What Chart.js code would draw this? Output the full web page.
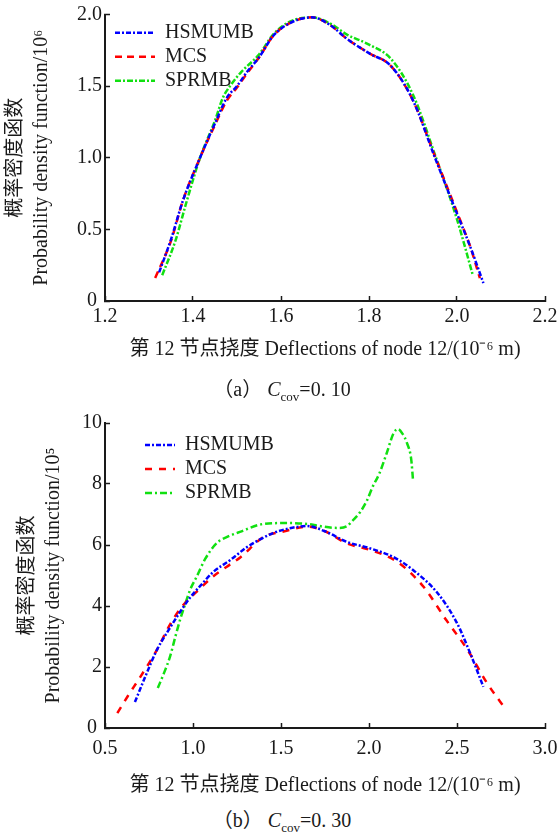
<!DOCTYPE html>
<html>
<head>
<meta charset="utf-8">
<script src="https://cdn.jsdelivr.net/npm/chart.js@4.4.0/dist/chart.umd.min.js"></script>
<style>
  body { margin: 0; background: #fff; width: 558px; height: 836px; position: relative; overflow: hidden;
         font-family: 'Liberation Serif', 'Noto Sans CJK SC', serif; color: #1a1a1a; }
  canvas { position: absolute; left: 0; }
  #graficoA { top: 0; }
  #graficoB { top: 400px; }
  .legenda { position: absolute; left: 0; width: 564px; text-align: center; font-size: 20px; line-height: 24px; white-space: nowrap; }
  .legenda sub { font-size: 13px; vertical-align: -5px; line-height: 0; }
</style>
</head>
<body>
<canvas id="graficoA" width="558" height="372"></canvas>
<canvas id="graficoB" width="558" height="400"></canvas>
<div class="legenda" style="top:377px">（a） <i>C</i><sub>cov</sub>=0. 10</div>
<div class="legenda" style="top:808px">（b） <i>C</i><sub>cov</sub>=0. 30</div>
<script>
  var nomes = ['HSMUMB', 'MCS', 'SPRMB'];

  // (a) Ccov = 0.10
  var xHsmA = [1.323, 1.35, 1.377, 1.416, 1.45, 1.477, 1.50, 1.523, 1.55, 1.582, 1.62, 1.67, 1.71, 1.75, 1.80, 1.85, 1.90, 1.95, 2.00, 2.03, 2.06];
  var yHsmA = [0.20, 0.43, 0.70, 1.00, 1.24, 1.42, 1.50, 1.60, 1.70, 1.85, 1.94, 1.98, 1.93, 1.83, 1.73, 1.64, 1.40, 1.00, 0.61, 0.38, 0.125];
  var xMcsA = [1.314, 1.35, 1.377, 1.416, 1.45, 1.477, 1.50, 1.523, 1.55, 1.582, 1.62, 1.67, 1.71, 1.75, 1.80, 1.85, 1.90, 1.95, 2.00, 2.03, 2.052];
  var yMcsA = [0.16, 0.42, 0.70, 1.00, 1.23, 1.40, 1.49, 1.59, 1.70, 1.85, 1.94, 1.98, 1.93, 1.83, 1.73, 1.64, 1.40, 1.01, 0.62, 0.38, 0.16];
  var xSprA = [1.33, 1.36, 1.386, 1.416, 1.45, 1.468, 1.484, 1.51, 1.55, 1.582, 1.62, 1.67, 1.71, 1.75, 1.80, 1.85, 1.90, 1.95, 2.00, 2.036];
  var ySprA = [0.18, 0.42, 0.70, 1.00, 1.26, 1.42, 1.50, 1.60, 1.72, 1.86, 1.95, 1.98, 1.94, 1.86, 1.79, 1.69, 1.44, 1.02, 0.57, 0.18];
  var xTicksA = [1.2, 1.4, 1.6, 1.8, 2.0, 2.2];
  var xLabelsA = ['1.2', '1.4', '1.6', '1.8', '2.0', '2.2'];
  var yTicksA = [0, 0.5, 1.0, 1.5, 2.0];
  var yLabelsA = ['0 ', '0.5', '1.0', '1.5', '2.0'];

  // (b) Ccov = 0.30
  var xHsmB = [0.67, 0.73, 0.795, 0.86, 0.926, 0.98, 1.04, 1.114, 1.21, 1.307, 1.455, 1.55, 1.65, 1.75, 1.875, 2.0, 2.14, 2.25, 2.39, 2.50, 2.575, 2.65];
  var yHsmB = [0.85, 1.7, 2.56, 3.2, 3.8, 4.25, 4.65, 5.11, 5.5, 5.93, 6.39, 6.55, 6.62, 6.45, 6.1, 5.9, 5.6, 5.18, 4.42, 3.44, 2.45, 1.35];
  var xMcsB = [0.57, 0.63, 0.70, 0.795, 0.87, 0.94, 1.02, 1.11, 1.19, 1.27, 1.40, 1.52, 1.65, 1.75, 1.875, 2.0, 2.16, 2.31, 2.44, 2.56, 2.67, 2.78];
  var yMcsB = [0.49, 1.05, 1.67, 2.56, 3.4, 4.0, 4.46, 4.95, 5.28, 5.6, 6.26, 6.45, 6.6, 6.45, 6.05, 5.85, 5.45, 4.63, 3.53, 2.56, 1.48, 0.59];
  var xSprB = [0.80, 0.835, 0.869, 0.90, 0.926, 0.955, 0.983, 1.02, 1.07, 1.136, 1.20, 1.267, 1.40, 1.53, 1.65, 1.72, 1.82, 1.875, 1.91, 1.95, 1.99, 2.02, 2.06, 2.10, 2.14, 2.165, 2.19, 2.216, 2.24, 2.25];
  var ySprB = [1.31, 1.8, 2.33, 3.0, 3.54, 4.05, 4.52, 4.95, 5.55, 6.07, 6.28, 6.43, 6.69, 6.72, 6.69, 6.62, 6.56, 6.62, 6.82, 7.08, 7.48, 7.9, 8.36, 9.0, 9.67, 9.8, 9.65, 9.34, 8.8, 8.13];
  var xTicksB = [0.5, 1.0, 1.5, 2.0, 2.5, 3.0];
  var xLabelsB = ['0.5', '1.0', '1.5', '2.0', '2.5', '3.0'];
  var yTicksB = [0, 2, 4, 6, 8, 10];
  var yLabelsB = ['0 ', '2', '4', '6', '8', '10'];

  var fonte = "'Liberation Serif', 'Noto Sans CJK SC', serif";
  var preto = '#1a1a1a';

  function pontos(xs, ys) {
    return xs.map(function (x, i) { return {x: x, y: ys[i]}; });
  }

  function serie(nome, dados, cor, traco) {
    return {
      label: nome, data: dados, borderColor: cor, backgroundColor: cor,
      borderWidth: 2.5, borderDash: traco, pointRadius: 0, fill: false,
      cubicInterpolationMode: 'monotone'
    };
  }

  // escala com ticks para dentro e tamanho fixo
  function eixo(pos, min, max, ticks, rotulos, titulo, tamanho, padTitulo, padTick) {
    return {
      type: 'linear', position: pos, min: min, max: max,
      afterBuildTicks: function (s) { s.ticks = ticks.map(function (v) { return {value: v}; }); },
      afterFit: function (s) {
        if (pos === 'left') s.width = tamanho; else s.height = tamanho;
        s.paddingLeft = 0; s.paddingRight = 0;
        s.paddingTop = 0; s.paddingBottom = 0;
      },
      ticks: {
        font: {family: fonte, size: 20}, color: preto, padding: padTick,
        maxRotation: 0, autoSkip: false,
        callback: function (v, i) { return rotulos[i]; }
      },
      grid: { drawOnChartArea: false, tickLength: -5, color: preto, tickWidth: 1.5 },
      border: { color: preto, width: 2 },
      title: { display: true, text: titulo, font: {family: fonte, size: 20, lineHeight: 1.3}, color: preto, padding: padTitulo }
    };
  }

  // coloca a legenda dentro da area do grafico
  var posLegenda = {
    id: 'posLegenda',
    afterLayout: function (chart, args, opts) {
      var lg = chart.legend;
      var pad = lg.options.labels.padding;
      lg.left = chart.chartArea.left + opts.dx - pad;
      lg.top = chart.chartArea.top + opts.dy - pad;
      lg.right = lg.left + 300;
      lg.bottom = lg.top + 200;
    }
  };

  function legenda(largura) {
    return {
      position: 'chartArea', align: 'start',
      labels: {
        font: {family: fonte, size: 20}, color: preto, padding: 4,
        usePointStyle: true, pointStyle: 'line', pointStyleWidth: largura,
        generateLabels: function (chart) {
          var itens = Chart.defaults.plugins.legend.labels.generateLabels(chart);
          itens.forEach(function (it, i) {
            var ds = chart.data.datasets[i];
            it.lineDash = ds.borderDash;
            it.lineWidth = ds.borderWidth;
            it.strokeStyle = ds.borderColor;
            it.pointStyle = 'line';
          });
          return itens;
        }
      }
    };
  }

  var ctxA = document.getElementById('graficoA').getContext('2d');
  new Chart(ctxA, {
    type: 'line',
    data: {
      datasets: [
        serie(nomes[0], pontos(xHsmA, yHsmA), '#0000ff', [5, 2, 2, 2]),
        serie(nomes[1], pontos(xMcsA, yMcsA), '#ff0000', [7, 5]),
        serie(nomes[2], pontos(xSprA, ySprA), '#11e011', [6, 2, 2, 2])
      ]
    },
    options: {
      responsive: false, animation: false,
      layout: { padding: {top: 14.5, right: 13, bottom: 0, left: 0} },
      scales: {
        x: eixo('bottom', 1.2, 2.2, xTicksA, xLabelsA, '第 12 节点挠度 Deflections of node 12/(10⁻⁶ m)', 71, {top: 0, bottom: 9}, 8.5),
        y: eixo('left', 0, 2.0, yTicksA, yLabelsA, ['概率密度函数', 'Probability density function/10⁶'], 105, {top: 3, bottom: 0}, 8)
      },
      plugins: {
        legend: legenda(40),
        tooltip: { enabled: false },
        posLegenda: { dx: 10, dy: 8.2 }
      }
    },
    plugins: [posLegenda]
  });

  var ctxB = document.getElementById('graficoB').getContext('2d');
  new Chart(ctxB, {
    type: 'line',
    data: {
      datasets: [
        serie(nomes[0], pontos(xHsmB, yHsmB), '#0000ff', [5, 2, 2, 2]),
        serie(nomes[1], pontos(xMcsB, yMcsB), '#ff0000', [7, 7]),
        serie(nomes[2], pontos(xSprB, ySprB), '#11e011', [7, 3, 2, 3])
      ]
    },
    options: {
      responsive: false, animation: false,
      layout: { padding: {top: 23, right: 13, bottom: 0, left: 0} },
      scales: {
        x: eixo('bottom', 0.5, 3.0, xTicksB, xLabelsB, '第 12 节点挠度 Deflections of node 12/(10⁻⁶ m)', 72, {top: 0, bottom: 1}, 14),
        y: eixo('left', 0, 10, yTicksB, yLabelsB, ['概率密度函数', 'Probability density function/10⁵'], 105, {top: 15, bottom: 0}, 8)
      },
      plugins: {
        legend: legenda(30),
        tooltip: { enabled: false },
        posLegenda: { dx: 40, dy: 12 }
      }
    },
    plugins: [posLegenda]
  });
</script>
</body>
</html>
